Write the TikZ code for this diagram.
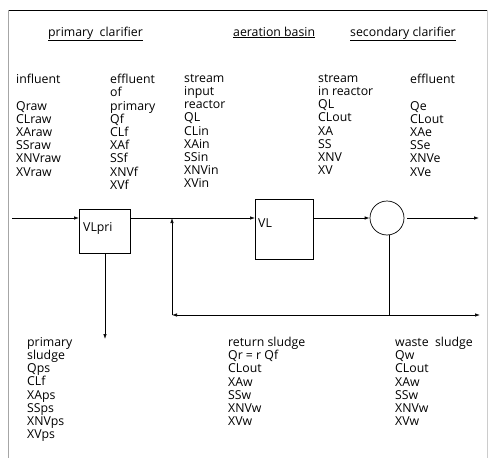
\documentclass[tikz,border=0pt]{standalone}
\usepackage{fontspec}
\setmainfont{Open Sans}
\usetikzlibrary{arrows.meta, positioning}

\begin{document}
\begin{tikzpicture}[
  x=1pt, y=-1pt,
  lbl/.style={font=\fontsize{12.3}{13.2}\selectfont, inner sep=0pt},
  col/.style={lbl, anchor=north west, align=left},
  ttl/.style={lbl, anchor=base west},
  unit/.style={draw, line width=0.7pt, inner sep=0pt, anchor=north west},
  flow/.style={-{Latex[length=5pt,width=3.5pt]}, line width=0.7pt},
  pipe/.style={line width=0.7pt},
]
\useasboundingbox (0,0) rectangle (488,458);
% frame
\draw[line width=0.8pt] (8,10) -- (487,10);
\draw[black!35] (8,10) -- (8,458);
\draw[black!20] (487,10) -- (487,458);

% headings
\node[ttl] (tpri) at (48,36) {\underline{primary\ \ clarifier}};
\node[ttl] (tbas) at (233,36) {\underline{aeration basin}};
\node[ttl] (tsec) at (350,36) {\underline{secondary clarifier}};

% streams above
\node[col] (inf) at (16,74) {influent\\[13.2pt]Qraw\\CLraw\\XAraw\\SSraw\\XNVraw\\XVraw};
\node[col] (eff) at (110,74) {effluent\\of\\primary\\Qf\\CLf\\XAf\\SSf\\XNVf\\XVf};
\node[col] (sin) at (184,74) {stream\\input\\reactor\\QL\\CLin\\XAin\\SSin\\XNVin\\XVin};
\node[col] (srt) at (318,74) {stream\\in reactor\\QL\\CLout\\XA\\SS\\XNV\\XV};
\node[col] (fin) at (410,74) {effluent\\[13.2pt]Qe\\CLout\\XAe\\SSe\\XNVe\\XVe};

% units
\node[unit, minimum width=51pt, minimum height=44pt] (pri) at (79,209) {};
\node[lbl, anchor=north west] (pril) at ([xshift=4pt,yshift=-13pt]pri.north west) {VLpri};
\node[unit, minimum width=58pt, minimum height=60pt] (bas) at (255,199) {};
\node[lbl, anchor=north west] (basl) at ([xshift=3pt,yshift=-20pt]bas.north west) {VL};
\node[draw, line width=0.7pt, circle, minimum size=34pt, inner sep=0pt] (sec) at (387,218) {};

\coordinate (in) at (12,218);
\coordinate (out) at (479,218);
\coordinate (split) at (389,315);
\coordinate (ret) at (172,315);
\coordinate (waste) at (480,315);
\coordinate (psl) at (105,339);

% flows
\draw[flow] (in) -- (in -| pri.west);
\draw[flow] (pri.east |- in) -- (bas.west |- in);
\draw[flow] (bas.east |- in) -- (sec.west);
\draw[flow] ([xshift=3pt]sec.east) -- (out);
\draw[pipe] (sec.south -| split) -- (split);
\draw[flow] (split) -- (ret);
\draw[flow] (ret) -- (ret |- in);
\draw[flow] (split) -- (waste);
\draw[flow] (pri.south -| psl) -- (psl);

% streams below
\node[col] (psd) at (27,337) {primary\\sludge\\Qps\\CLf\\XAps\\SSps\\XNVps\\XVps};
\node[col] (rsd) at (228,337) {return sludge\\Qr = r Qf\\CLout\\XAw\\SSw\\XNVw\\XVw};
\node[col] (wsd) at (395,337) {waste\ \ sludge\\Qw\\CLout\\XAw\\SSw\\XNVw\\XVw};
\end{tikzpicture}
\end{document}
